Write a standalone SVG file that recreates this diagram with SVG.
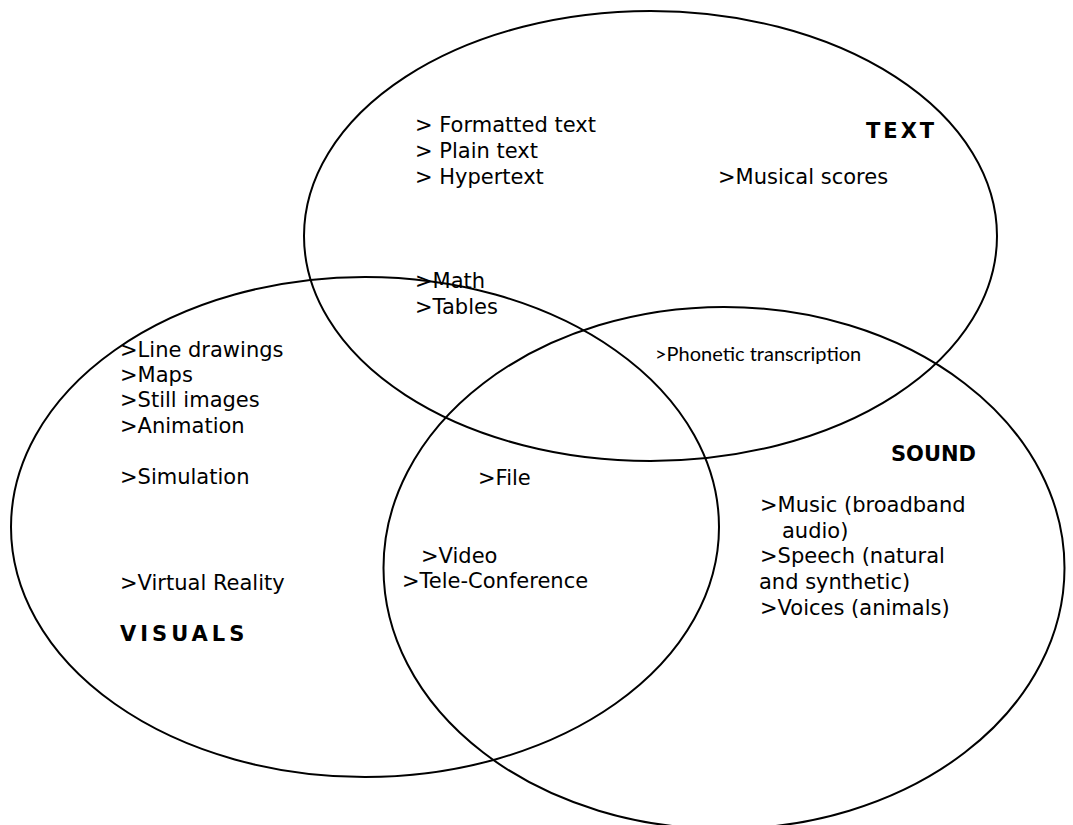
<svg xmlns="http://www.w3.org/2000/svg" width="1073" height="825" viewBox="0 0 1073 825">
  <style>
    .set { fill: none; stroke: #000; stroke-width: 2; }
    .item { font-family: "DejaVu Sans", Verdana, sans-serif; font-size: 21px; fill: #000; }
    .head { font-family: "DejaVu Sans", Verdana, sans-serif; font-size: 21px; font-weight: bold; fill: #000; }
    .small { font-family: "Lato", "Open Sans", sans-serif; font-size: 20px; fill: #000; }
  </style>
  <rect width="1073" height="825" fill="#fff"/>

  <g id="text-set">
    <ellipse class="set" cx="650.5" cy="236" rx="346.5" ry="225"/>
    <text class="head" x="866" y="138" letter-spacing="3">TEXT</text>
    <text class="item" x="415" y="132">&gt; Formatted text</text>
    <text class="item" x="415" y="158">&gt; Plain text</text>
    <text class="item" x="415" y="184">&gt; Hypertext</text>
    <text class="item" x="718" y="184">&gt;Musical scores</text>
    <text class="item" x="415" y="288">&gt;Math</text>
    <text class="item" x="415" y="314">&gt;Tables</text>
  </g>

  <g id="visuals-set">
    <ellipse class="set" cx="365" cy="527" rx="354" ry="250"/>
    <text class="item" x="120" y="357">&gt;Line drawings</text>
    <text class="item" x="120" y="382">&gt;Maps</text>
    <text class="item" x="120" y="407">&gt;Still images</text>
    <text class="item" x="120" y="433">&gt;Animation</text>
    <text class="item" x="120" y="484">&gt;Simulation</text>
    <text class="item" x="120" y="590">&gt;Virtual Reality</text>
    <text class="head" x="120" y="641" letter-spacing="4">VISUALS</text>
  </g>

  <g id="sound-set">
    <ellipse class="set" cx="724" cy="568" rx="340.5" ry="261"/>
    <text class="small" x="655" y="361">&gt;Phonetic transcription</text>
    <text class="head" x="891" y="461">SOUND</text>
    <text class="item" x="760" y="512">&gt;Music (broadband</text>
    <text class="item" x="782" y="538">audio)</text>
    <text class="item" x="760" y="563">&gt;Speech (natural</text>
    <text class="item" x="759" y="589">and synthetic)</text>
    <text class="item" x="760" y="615">&gt;Voices (animals)</text>
  </g>

  <g id="shared">
    <text class="item" x="478" y="485">&gt;File</text>
    <text class="item" x="421" y="563">&gt;Video</text>
    <text class="item" x="402" y="588">&gt;Tele-Conference</text>
  </g>
</svg>
